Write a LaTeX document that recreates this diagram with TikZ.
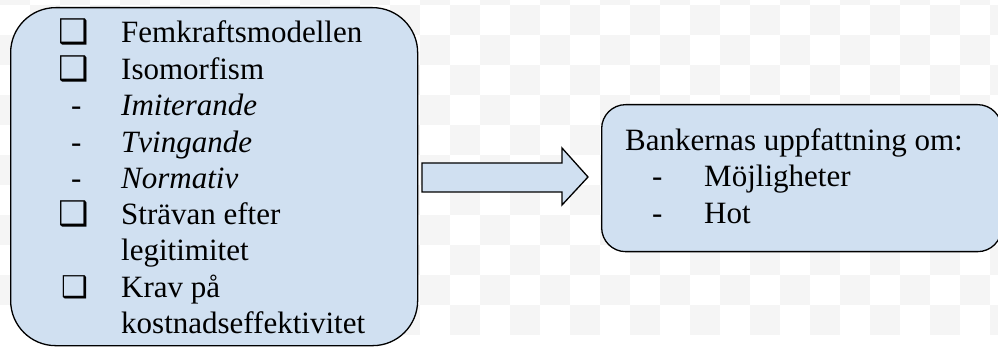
\documentclass[tikz,border=0pt]{standalone}
\usepackage{fontspec}
\setmainfont{Liberation Serif}
\newfontfamily\symfont{DejaVu Sans}
\definecolor{boxfill}{RGB}{208,224,241}
\definecolor{checkgray}{RGB}{245,245,245}
\begin{document}
\begin{tikzpicture}[x=1pt,y=-1pt,
  panel/.style={draw=black, line width=1.3pt, fill=boxfill, inner sep=0pt, anchor=north west},
  txt/.style={anchor=base west, inner sep=0pt, font=\fontsize{31}{36}\selectfont},
  chk/.style={anchor=base west, inner sep=0pt, font=\symfont\fontsize{34}{34}\selectfont},
  chks/.style={anchor=base west, inner sep=0pt, font=\symfont\fontsize{30}{30}\selectfont},
  blockarrow/.style={draw=black, line width=1.3pt, fill=boxfill, line join=miter}]
\useasboundingbox (0,0) rectangle (998,347);
% faint checkerboard background
\foreach \c in {0,...,33}{
  \foreach \r in {0,...,11}{
    \pgfmathtruncatemacro{\parity}{mod(\c+\r,2)}
    \ifnum\parity=0
      \fill[checkgray] (\c*30,\r*30-25) rectangle ++(30,30);
    \fi
  }
}
% boxes
\node[panel, rounded corners=45pt, minimum width=407pt, minimum height=338pt] (left) at (10,7) {};
\node[panel, rounded corners=24pt, minimum width=400pt, minimum height=147pt] (right) at (601,104) {};
% block arrow
\draw[blockarrow] (422,163) coordinate (a1) -- (562,163) -- (562,148) -- (588,177) coordinate (tip) -- (562,205) -- (562,192) -- (422,192) -- cycle;
% left texts
\node[chk] (c1) at (58,44) {❑};
\node[txt] (t1) at (121,43) {Femkraftsmodellen};
\node[chk] (c2) at (58,81) {❑};
\node[txt] (t2) at (121,80) {Isomorfism};
\node[txt] (d1) at (71,116) {-};
\node[txt] (t3) at (121,116) {\itshape Imiterande};
\node[txt] (d2) at (71,153) {-};
\node[txt] (t4) at (121,153) {\itshape Tvingande};
\node[txt] (d3) at (71,189) {-};
\node[txt] (t5) at (121,189) {\itshape Normativ};
\node[chk] (c3) at (58,226) {❑};
\node[txt] (t6) at (121,225) {Strävan efter};
\node[txt] (t7) at (121,261) {legitimitet};
\node[chks] (c4) at (61,298) {❑};
\node[txt] (t8) at (121,297) {Krav på};
\node[txt] (t9) at (121,333) {kostnadseffektivitet};
% right texts
\node[txt] (r1) at (625,151) {Bankernas uppfattning om:};
\node[txt] (rd1) at (652,187) {-};
\node[txt] (r2) at (704,187) {Möjligheter};
\node[txt] (rd2) at (652,224) {-};
\node[txt] (r3) at (704,224) {Hot};
\end{tikzpicture}
\end{document}
